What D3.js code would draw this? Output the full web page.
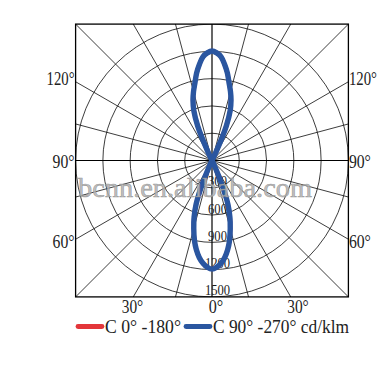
<!DOCTYPE html>
<html>
<head>
<meta charset="utf-8">
<script src="https://cdn.jsdelivr.net/npm/d3@7"></script>
<style>
  body { margin: 0; background: #fff; }
  text { font-family: "Liberation Serif", serif; }
</style>
</head>
<body>
<svg id="graph" width="387" height="372"></svg>
<script>
// gamma angles, 0 = straight down, 180 = straight up
const gammaAngles = [
  0, 2.5, 5, 7.5, 10, 12.5, 15, 17.5, 20, 22.5, 25, 27.5, 30,
  45, 60, 75, 90, 105, 120, 135,
  150, 152.5, 155, 157.5, 160, 162.5, 165, 167.5, 170, 172.5, 175, 177.5, 180
];
// C0-180 plane, cd/klm (hidden under the C90 curve in the picture)
const c0Values = [
  1195, 1175, 1135, 1075, 995, 895, 775, 655, 510, 270, 70, 0, 0,
  0, 0, 0, 0, 0, 0, 0,
  0, 0, 120, 410, 585, 695, 785, 870, 975, 1065, 1145, 1185, 1205
];
// C90-270 plane, cd/klm
const c90Values = [
  1195, 1175, 1135, 1075, 995, 895, 775, 655, 510, 270, 70, 0, 0,
  0, 0, 0, 0, 0, 0, 0,
  0, 0, 120, 410, 585, 695, 785, 870, 975, 1065, 1145, 1185, 1205
];
const ringTicks = [300, 600, 900, 1200, 1500];
const spokeAngles = d3.range(0, 360, 15);
const leftLabels = ["120°", "90°", "60°"];
const bottomLabels = ["30°", "0°", "30°"];
const legendNames = ["C 0° -180°", "C 90° -270° cd/klm"];

const colors = { c0: "#e3363a", c90: "#2a56a0" };

const svg = d3.select("#graph");

const cx = 212,
  cy = 160.5,
  half = 136.4;

const r = d3.scaleLinear().domain([0, 1500]).range([0, half]);

svg.append("defs")
  .append("clipPath")
  .attr("id", "box")
  .append("rect")
  .attr("x", -half)
  .attr("y", -half)
  .attr("width", half * 2)
  .attr("height", half * 2);

const plot = svg.append("g").attr("transform", "translate(" + cx + "," + cy + ")");
const grid = plot.append("g").attr("clip-path", "url(#box)");

grid.selectAll("circle.ring")
  .data(ringTicks)
  .enter()
  .append("circle")
  .attr("class", "ring")
  .attr("r", d => r(d))
  .attr("fill", "none")
  .attr("stroke", "#1a1a1a")
  .attr("stroke-width", 0.85);

// spokes every 15 degrees
grid.selectAll("line.spoke")
  .data(spokeAngles)
  .enter()
  .append("line")
  .attr("class", "spoke")
  .attr("x1", 0)
  .attr("y1", 0)
  .attr("x2", d => 260 * Math.sin(d * Math.PI / 180))
  .attr("y2", d => 260 * Math.cos(d * Math.PI / 180))
  .attr("stroke", d => (d % 90 == 0 ? "#000" : "#1a1a1a"))
  .attr("stroke-width", d => (d % 90 == 0 ? 1.2 : 0.85));

// frame
plot.append("rect")
  .attr("x", -half)
  .attr("y", -half)
  .attr("width", half * 2)
  .attr("height", half * 2)
  .attr("fill", "none")
  .attr("stroke", "#000")
  .attr("stroke-width", 1.3);

// ring value labels along the lower axis
plot.selectAll("text.rlab")
  .data(ringTicks)
  .enter()
  .append("text")
  .attr("class", "rlab")
  .attr("x", 5.5)
  .attr("y", d => r(d) - 1.5)
  .attr("text-anchor", "middle")
  .attr("font-size", 15)
  .attr("textLength", d => String(d).length * 6.3)
  .attr("lengthAdjust", "spacingAndGlyphs")
  .attr("fill", "#1a1a1a")
  .text(d => d);

// one lobe = origin -> one side -> tip -> other side -> origin
const lobePoints = (values, lower) => {
  const dist = i => (lower ? gammaAngles[i] : 180 - gammaAngles[i]);
  const idx = gammaAngles
    .map((g, i) => i)
    .filter(i => (lower ? gammaAngles[i] < 90 : gammaAngles[i] > 90) && values[i] > 0)
    .sort((a, b) => dist(b) - dist(a));
  const base = lower ? Math.PI : 0;
  const pts = [[0, 0]];
  idx.forEach(i => pts.push([base - dist(i) * Math.PI / 180, r(values[i])]));
  idx.slice().reverse().slice(1).forEach(i => pts.push([base + dist(i) * Math.PI / 180, r(values[i])]));
  pts.push([0, 0]);
  return pts;
};

const radial = d3.lineRadial().curve(d3.curveCatmullRom.alpha(0.5));

const drawPlane = (values, color, width) => {
  [true, false].forEach(lower => {
    plot.append("path")
      .attr("d", radial(lobePoints(values, lower)))
      .attr("fill", "none")
      .attr("stroke", color)
      .attr("stroke-width", width)
      .attr("stroke-linejoin", "round")
      .attr("stroke-linecap", "round");
  });
};

drawPlane(c0Values, colors.c0, 4.2);
drawPlane(c90Values, colors.c90, 5.4);

// angle labels
const leftY = [84.5, 167.5, 248];
const labelWidths = [28, 22, 22];
leftLabels.forEach((t, i) => {
  svg.append("text")
    .attr("x", cx - half - 1)
    .attr("y", leftY[i])
    .attr("text-anchor", "end")
    .attr("font-size", 18)
    .attr("textLength", labelWidths[i])
    .attr("lengthAdjust", "spacingAndGlyphs")
    .attr("fill", "#222")
    .text(t);
  svg.append("text")
    .attr("x", cx + half + 0.5)
    .attr("y", leftY[i])
    .attr("text-anchor", "start")
    .attr("font-size", 18)
    .attr("textLength", labelWidths[i])
    .attr("lengthAdjust", "spacingAndGlyphs")
    .attr("fill", "#222")
    .text(t);
});

const bottomX = [132.5, 216, 298];
bottomLabels.forEach((t, i) => {
  svg.append("text")
    .attr("x", bottomX[i])
    .attr("y", 312.5)
    .attr("text-anchor", "middle")
    .attr("font-size", 18)
    .attr("textLength", t.length == 3 ? 21.5 : 14.5)
    .attr("lengthAdjust", "spacingAndGlyphs")
    .attr("fill", "#222")
    .text(t);
});

// legend
const legendX = [76, 184];
const legendTextW = [76, 136];
[colors.c0, colors.c90].forEach((c, i) => {
  svg.append("line")
    .attr("x1", legendX[i] + 2)
    .attr("x2", legendX[i] + 26)
    .attr("y1", 326.5)
    .attr("y2", 326.5)
    .attr("stroke", c)
    .attr("stroke-width", 4.8)
    .attr("stroke-linecap", "round");
  svg.append("text")
    .attr("x", legendX[i] + 29)
    .attr("y", 333)
    .attr("font-size", 18)
    .attr("textLength", legendTextW[i])
    .attr("lengthAdjust", "spacingAndGlyphs")
    .attr("fill", "#222")
    .text(legendNames[i]);
});

// watermark
svg.append("text")
  .attr("x", 78)
  .attr("y", 197)
  .attr("font-family", "Liberation Sans, Arial, sans-serif")
  .attr("font-size", 27)
  .attr("textLength", 234)
  .attr("lengthAdjust", "spacingAndGlyphs")
  .attr("fill", "#b4b4b4")
  .attr("fill-opacity", 0.85)
  .attr("stroke", "#8c8c8c")
  .attr("stroke-width", 0.6)
  .attr("stroke-opacity", 0.8)
  .text("bcnn.en.alibaba.com");
</script>
</body>
</html>
